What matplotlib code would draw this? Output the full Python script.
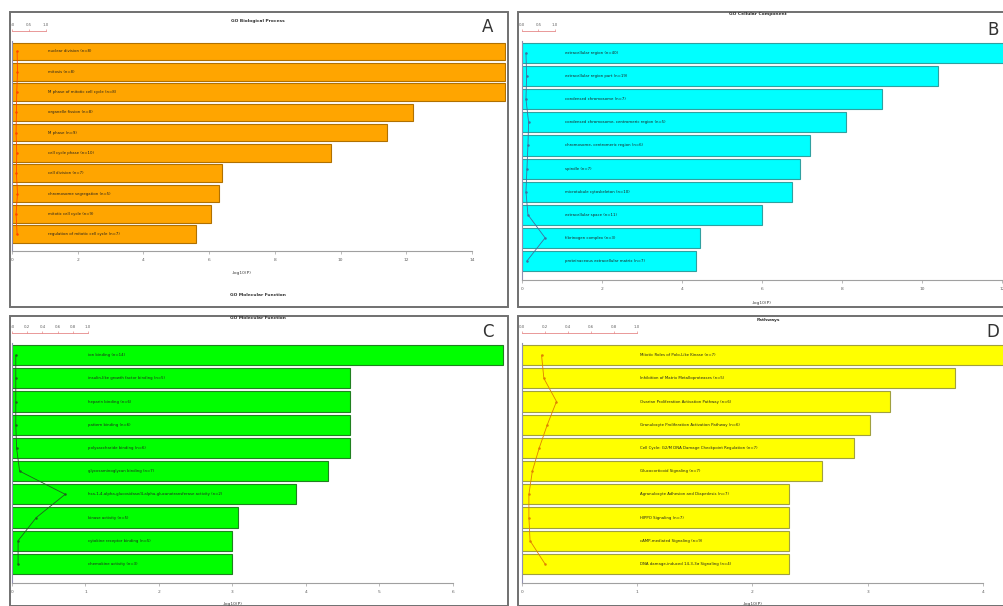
import matplotlib
matplotlib.use("Agg")
import matplotlib.pyplot as plt
from matplotlib.patches import Rectangle

W, H = 1004, 606

# ---------------- data ----------------
bp_terms = ["nuclear division (n=8)", "mitosis (n=8)", "M phase of mitotic cell cycle (n=8)",
            "organelle fission (n=8)", "M phase (n=9)", "cell cycle phase (n=10)",
            "cell division (n=7)", "chromosome segregation (n=5)", "mitotic cell cycle (n=9)",
            "regulation of mitotic cell cycle (n=7)"]
bp_values = [15.0, 15.0, 15.0, 12.2, 11.4, 9.7, 6.4, 6.3, 6.05, 5.6]
bp_ratio = [0.15, 0.16, 0.14, 0.13, 0.12, 0.14, 0.13, 0.16, 0.12, 0.15]

cc_terms = ["extracellular region (n=40)", "extracellular region part (n=19)",
            "condensed chromosome (n=7)", "condensed chromosome, centromeric region (n=5)",
            "chromosome, centromeric region (n=6)", "spindle (n=7)",
            "microtubule cytoskeleton (n=10)", "extracellular space (n=11)",
            "fibrinogen complex (n=3)", "proteinaceous extracellular matrix (n=7)"]
cc_values = [12.1, 10.4, 9.0, 8.1, 7.2, 6.95, 6.75, 6.0, 4.45, 4.35]
cc_ratio = [0.12, 0.14, 0.12, 0.2, 0.18, 0.15, 0.12, 0.18, 0.7, 0.15]

mf_terms = ["ion binding (n=14)", "insulin-like growth factor binding (n=5)",
            "heparin binding (n=6)", "pattern binding (n=6)", "polysaccharide binding (n=6)",
            "glycosaminoglycan binding (n=7)",
            "hsa-1,4-alpha-glucosidase/4-alpha-glucanotransferase activity (n=2)",
            "kinase activity (n=5)", "cytokine receptor binding (n=5)",
            "chemokine activity (n=3)"]
mf_values = [6.68, 4.6, 4.6, 4.6, 4.6, 4.3, 3.87, 3.08, 3.0, 3.0]
mf_ratio = [0.05, 0.05, 0.05, 0.05, 0.06, 0.1, 0.7, 0.32, 0.08, 0.08]

pw_terms = ["Mitotic Roles of Polo-Like Kinase (n=7)",
            "Inhibition of Matrix Metalloproteases (n=5)",
            "Ovarian Proliferation Activation Pathway (n=6)",
            "Granulocyte Proliferation Activation Pathway (n=6)",
            "Cell Cycle: G2/M DNA Damage Checkpoint Regulation (n=7)",
            "Glucocorticoid Signaling (n=7)",
            "Agranulocyte Adhesion and Diapedesis (n=7)",
            "HIPPO Signaling (n=7)",
            "cAMP-mediated Signaling (n=9)",
            "DNA damage-induced 14-3-3\u03c3 Signaling (n=4)"]
pw_values = [4.2, 3.76, 3.19, 3.02, 2.88, 2.6, 2.32, 2.32, 2.32, 2.32]
pw_ratio = [0.17, 0.19, 0.3, 0.22, 0.15, 0.09, 0.06, 0.06, 0.07, 0.2]

titles = ["GO Biological Process", "GO Cellular Component", "GO Molecular Function", "Pathways"]
letters = ["A", "B", "C", "D"]
xlabel = "-log10(P)"

fig = plt.figure(figsize=(W / 100, H / 100), dpi=100)


def fx(px):
    return px / W


def fy(py):
    return 1 - py / H


# frames
frames = [(10, 12, 508, 307), (518, 12, 1004, 307), (10, 316, 508, 606), (518, 316, 1004, 606)]
for (x0, y0, x1, y1) in frames:
    fig.patches.append(Rectangle((fx(x0), fy(y1)), fx(x1 - x0), (y1 - y0) / H,
                                 transform=fig.transFigure, fill=False,
                                 edgecolor="#707070", linewidth=1.4))

panels = [
    dict(terms=bp_terms, vals=bp_values, ratio=bp_ratio, x0=12, ppu=32.86, xmax_tick=14, step=2,
         xright=506, ytop=40, ybot=243, yaxis=251, lab_x=48, fc="#FFA500", ec="#B07000",
         lc="#FF4500", mini_w=34, mini_ticks=[0.0, 0.5, 1.0], xlab_y=273, title_y=21, title_x=258,
         letter=(488, 27)),
    dict(terms=cc_terms, vals=cc_values, ratio=cc_ratio, x0=522, ppu=40.0, xmax_tick=12, step=2,
         xright=1004, ytop=40, ybot=271, yaxis=280, lab_x=565, fc="#00FFFF", ec="#30A0A0",
         lc="#4070A0", mini_w=33, mini_ticks=[0.0, 0.5, 1.0], xlab_y=303, title_y=14, title_x=758,
         letter=(993, 30)),
    dict(terms=mf_terms, vals=mf_values, ratio=mf_ratio, x0=12, ppu=73.5, xmax_tick=6, step=1,
         xright=506, ytop=342, ybot=574, yaxis=583, lab_x=88, fc="#00FF00", ec="#208020",
         lc="#206020", mini_w=76, mini_ticks=[0.0, 0.2, 0.4, 0.6, 0.8, 1.0], xlab_y=604,
         title_y=318, title_x=258, letter=(488, 332)),
    dict(terms=pw_terms, vals=pw_values, ratio=pw_ratio, x0=522, ppu=115.25, xmax_tick=4, step=1,
         xright=1004, ytop=342, ybot=574, yaxis=583, lab_x=640, fc="#FFFF00", ec="#A0A040",
         lc="#E08000", mini_w=115, mini_ticks=[0.0, 0.2, 0.4, 0.6, 0.8, 1.0], xlab_y=604,
         title_y=320, title_x=768, letter=(993, 332)),
]

for i, p in enumerate(panels):
    n = len(p["terms"])
    spacing = (p["ybot"] - p["ytop"]) / n
    bh = 0.87
    ybottom_lim = (n - 1) + bh / 2 + (p["yaxis"] - p["ybot"]) / spacing
    ytop_lim = -bh / 2 - 0.1
    ax_top_px = p["yaxis"] - (ybottom_lim - ytop_lim) * spacing
    xmax = (p["xright"] - p["x0"]) / p["ppu"]
    ax = fig.add_axes([fx(p["x0"]), fy(p["yaxis"]), fx(p["xright"] - p["x0"]),
                       (p["yaxis"] - ax_top_px) / H])
    ax.set_facecolor("none")
    ypos = list(range(n))
    ax.barh(ypos, p["vals"], height=bh, color=p["fc"], edgecolor=p["ec"], linewidth=0.8)
    for y, t in zip(ypos, p["terms"]):
        ax.text(fx(p["lab_x"] - p["x0"]) * W / p["ppu"], y, t, fontsize=2.8, va="center",
                ha="left", color="#202020")
    ax.set_xlim(0, xmax)
    ax.set_ylim(ybottom_lim, ytop_lim)
    ax.set_yticks([])
    for s in ["top", "right"]:
        ax.spines[s].set_visible(False)
    ax.spines["left"].set_color("#9090b0")
    ax.spines["left"].set_linewidth(0.8)
    ax.spines["bottom"].set_color("#a0a0a0")
    ax.spines["bottom"].set_linewidth(0.8)
    ax.spines["bottom"].set_bounds(0, p["xmax_tick"])
    ticks = list(range(0, p["xmax_tick"] + 1, p["step"]))
    ax.set_xticks(ticks)
    ax.set_xticklabels([str(t) for t in ticks], fontsize=3.2, color="#606060")
    ax.tick_params(axis="x", length=2, width=0.5, color="#a0a0a0", pad=3)
    fig.text(fx(p["x0"] + p["xmax_tick"] * p["ppu"] / 2), fy(p["xlab_y"]), xlabel,
             fontsize=3.2, color="#404040", ha="center", va="center")

    # mini ratio axis
    mini = fig.add_axes([fx(p["x0"]), fy(p["yaxis"]), fx(p["mini_w"]),
                         (p["yaxis"] - ax_top_px) / H])
    mini.set_facecolor("none")
    mini.plot(p["ratio"], ypos, color=p["lc"], linewidth=0.6, marker="o", markersize=0.8)
    mini.set_xlim(0, 1)
    mini.set_ylim(ybottom_lim, ytop_lim)
    mini.set_yticks([])
    for s in ["bottom", "left", "right"]:
        mini.spines[s].set_visible(False)
    mini.spines["top"].set_position(("outward", 7))
    mini.spines["top"].set_color("#e07070")
    mini.spines["top"].set_linewidth(0.5)
    mini.xaxis.tick_top()
    mini.set_xticks(p["mini_ticks"])
    mini.set_xticklabels([f"{t:.1f}" for t in p["mini_ticks"]], fontsize=2.8, color="#606060")
    mini.tick_params(axis="x", length=1.5, width=0.4, color="#e07070", pad=1.5)

    fig.text(fx(p["title_x"]), fy(p["title_y"]), titles[i], fontsize=3.2, fontweight="bold",
             color="#303030", ha="center", va="center")
    fig.text(fx(p["letter"][0]), fy(p["letter"][1]), letters[i], fontsize=12,
             color="#333333", ha="center", va="center")

# remnant title visible at bottom of panel A
fig.text(fx(258), fy(295), "GO Molecular Function", fontsize=3.2, fontweight="bold",
         color="#303030", ha="center", va="center")

fig.savefig("out.png", dpi=100)
